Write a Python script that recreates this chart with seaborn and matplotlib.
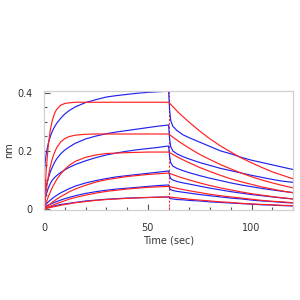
import matplotlib
matplotlib.use("Agg")
import matplotlib.pyplot as plt
import pandas as pd
import seaborn as sns
from matplotlib.ticker import MultipleLocator

# measured traces (blue): association 0-60 s, dissociation 60-120 s
t_raw_assoc = [0, 0.5, 1, 2, 3, 4, 5, 6, 8, 10, 12, 15, 20, 25, 30, 35, 40, 45, 50, 55, 60]
t_raw_dissoc = [60.5, 61, 62, 64, 67, 70, 75, 80, 85, 90, 95, 100, 105, 110, 115, 120]

raw_1 = [0.117, 0.160, 0.190, 0.225, 0.250, 0.268, 0.282, 0.294, 0.312, 0.327, 0.338, 0.351, 0.366,
         0.376, 0.385, 0.390, 0.394, 0.398, 0.401, 0.403, 0.405,
         0.340, 0.305, 0.285, 0.270, 0.255, 0.245, 0.230, 0.215, 0.200, 0.190, 0.178, 0.168, 0.160,
         0.152, 0.144, 0.136]
raw_2 = [0.030, 0.060, 0.080, 0.105, 0.128, 0.145, 0.160, 0.172, 0.190, 0.203, 0.213, 0.226, 0.241,
         0.251, 0.259, 0.265, 0.270, 0.275, 0.280, 0.285, 0.289,
         0.240, 0.215, 0.200, 0.190, 0.180, 0.172, 0.160, 0.150, 0.140, 0.132, 0.124, 0.116, 0.109,
         0.102, 0.096, 0.092]
raw_3 = [0.010, 0.030, 0.050, 0.072, 0.088, 0.100, 0.108, 0.115, 0.126, 0.135, 0.143, 0.153, 0.166,
         0.177, 0.186, 0.193, 0.199, 0.204, 0.208, 0.212, 0.217,
         0.180, 0.160, 0.148, 0.140, 0.132, 0.125, 0.115, 0.106, 0.098, 0.090, 0.083, 0.077, 0.071,
         0.066, 0.061, 0.057]
raw_4 = [0.005, 0.012, 0.017, 0.025, 0.031, 0.037, 0.042, 0.047, 0.056, 0.063, 0.070, 0.079, 0.090,
         0.098, 0.105, 0.111, 0.115, 0.119, 0.123, 0.127, 0.131,
         0.115, 0.105, 0.100, 0.095, 0.090, 0.086, 0.079, 0.072, 0.066, 0.060, 0.055, 0.050, 0.046,
         0.042, 0.038, 0.035]
raw_5 = [0.003, 0.007, 0.010, 0.014, 0.017, 0.020, 0.023, 0.026, 0.031, 0.036, 0.040, 0.046, 0.054,
         0.060, 0.065, 0.069, 0.072, 0.075, 0.078, 0.081, 0.083,
         0.072, 0.067, 0.064, 0.061, 0.058, 0.055, 0.050, 0.046, 0.042, 0.038, 0.035, 0.031, 0.028,
         0.026, 0.023, 0.021]
raw_6 = [0.000, 0.003, 0.004, 0.006, 0.008, 0.010, 0.011, 0.013, 0.016, 0.018, 0.020, 0.023, 0.028,
         0.031, 0.034, 0.036, 0.038, 0.039, 0.040, 0.041, 0.042,
         0.038, 0.036, 0.035, 0.033, 0.032, 0.030, 0.028, 0.025, 0.023, 0.021, 0.019, 0.017, 0.015,
         0.014, 0.012, 0.011]

# fitted curves (red)
t_fit = [0, 1, 2, 3, 4, 5, 6, 8, 10, 12, 15, 20, 25, 30, 40, 50, 60,
         65, 70, 75, 80, 85, 90, 95, 100, 105, 110, 115, 120]

fit_1 = [0, 0.133, 0.218, 0.272, 0.306, 0.328, 0.342, 0.357, 0.363, 0.365, 0.367, 0.367, 0.367,
         0.367, 0.367, 0.367, 0.367,
         0.330, 0.298, 0.268, 0.241, 0.217, 0.196, 0.176, 0.159, 0.143, 0.128, 0.116, 0.104]
fit_2 = [0, 0.063, 0.111, 0.147, 0.174, 0.194, 0.210, 0.231, 0.242, 0.249, 0.254, 0.257, 0.258,
         0.258, 0.258, 0.258, 0.258,
         0.232, 0.209, 0.188, 0.170, 0.153, 0.138, 0.124, 0.111, 0.100, 0.090, 0.081, 0.073]
fit_3 = [0, 0.022, 0.042, 0.059, 0.075, 0.088, 0.101, 0.121, 0.137, 0.150, 0.164, 0.178, 0.186,
         0.191, 0.194, 0.196, 0.196,
         0.176, 0.159, 0.143, 0.129, 0.116, 0.104, 0.094, 0.085, 0.076, 0.069, 0.062, 0.056]
fit_4 = [0, 0.006, 0.012, 0.018, 0.024, 0.029, 0.034, 0.043, 0.051, 0.059, 0.069, 0.082, 0.093,
         0.101, 0.112, 0.119, 0.124,
         0.111, 0.100, 0.090, 0.081, 0.073, 0.066, 0.059, 0.053, 0.048, 0.043, 0.039, 0.035]
fit_5 = [0, 0.004, 0.007, 0.010, 0.013, 0.016, 0.019, 0.024, 0.029, 0.034, 0.040, 0.048, 0.055,
         0.061, 0.069, 0.075, 0.078,
         0.070, 0.063, 0.057, 0.051, 0.046, 0.042, 0.038, 0.034, 0.030, 0.027, 0.025, 0.022]
fit_6 = [0, 0.002, 0.004, 0.006, 0.007, 0.009, 0.010, 0.013, 0.016, 0.018, 0.022, 0.026, 0.030,
         0.033, 0.037, 0.040, 0.042,
         0.038, 0.034, 0.031, 0.028, 0.025, 0.023, 0.020, 0.018, 0.016, 0.015, 0.013, 0.012]

t_switch = 60

raw_curves = [raw_1, raw_2, raw_3, raw_4, raw_5, raw_6]
fit_curves = [fit_1, fit_2, fit_3, fit_4, fit_5, fit_6]

t_raw = t_raw_assoc + t_raw_dissoc
raw_df = pd.concat(
    [pd.DataFrame({"time": t_raw, "nm": vals, "curve": i}) for i, vals in enumerate(raw_curves)],
    ignore_index=True,
)
fit_df = pd.concat(
    [pd.DataFrame({"time": t_fit, "nm": vals, "curve": i}) for i, vals in enumerate(fit_curves)],
    ignore_index=True,
)

sns.set_style("white")
plt.rcParams["font.family"] = ["DejaVu Sans"]

fig = plt.figure(figsize=(3, 3), dpi=100)
ax = fig.add_axes([0.147, 0.299, 0.83, 0.398])

ax.axvline(t_switch, color="#ff3030", linestyle=(0, (2, 1.5)), linewidth=0.8)
sns.lineplot(data=raw_df, x="time", y="nm", units="curve", estimator=None, sort=False,
             color="#2222ee", linewidth=0.85, ax=ax)
sns.lineplot(data=fit_df, x="time", y="nm", units="curve", estimator=None, sort=False,
             color="#ff2020", linewidth=0.85, ax=ax)

ax.set_xlim(0, 120)
ax.set_ylim(-0.004, 0.406)
ax.set_xticks([0, 50, 100])
ax.set_xticklabels(["0", "50", "100"])
ax.set_yticks([0, 0.2, 0.4])
ax.set_yticklabels(["0", "0.2", "0.4"])
ax.xaxis.set_minor_locator(MultipleLocator(10))
ax.yaxis.set_minor_locator(MultipleLocator(0.05))
ax.tick_params(which="both", direction="in", colors="#555555", labelcolor="#333333",
               labelsize=7, width=0.8)
ax.tick_params(axis="y", pad=8)
ax.tick_params(axis="x", pad=9)
ax.tick_params(which="major", length=4)
ax.tick_params(which="minor", length=2.5)
ax.tick_params(axis="x", which="both", bottom=True, top=False)
ax.tick_params(axis="y", which="both", left=True, right=False)
for s in ax.spines.values():
    s.set_color("#d0d0d0")
    s.set_linewidth(0.9)

ax.set_xlabel("Time (sec)", fontsize=7, color="#333333", labelpad=2)
ax.set_ylabel("nm", fontsize=7, color="#333333")
ax.yaxis.set_label_coords(-0.12, 0.5)

fig.savefig("out.png", dpi=100)
plt.close(fig)
